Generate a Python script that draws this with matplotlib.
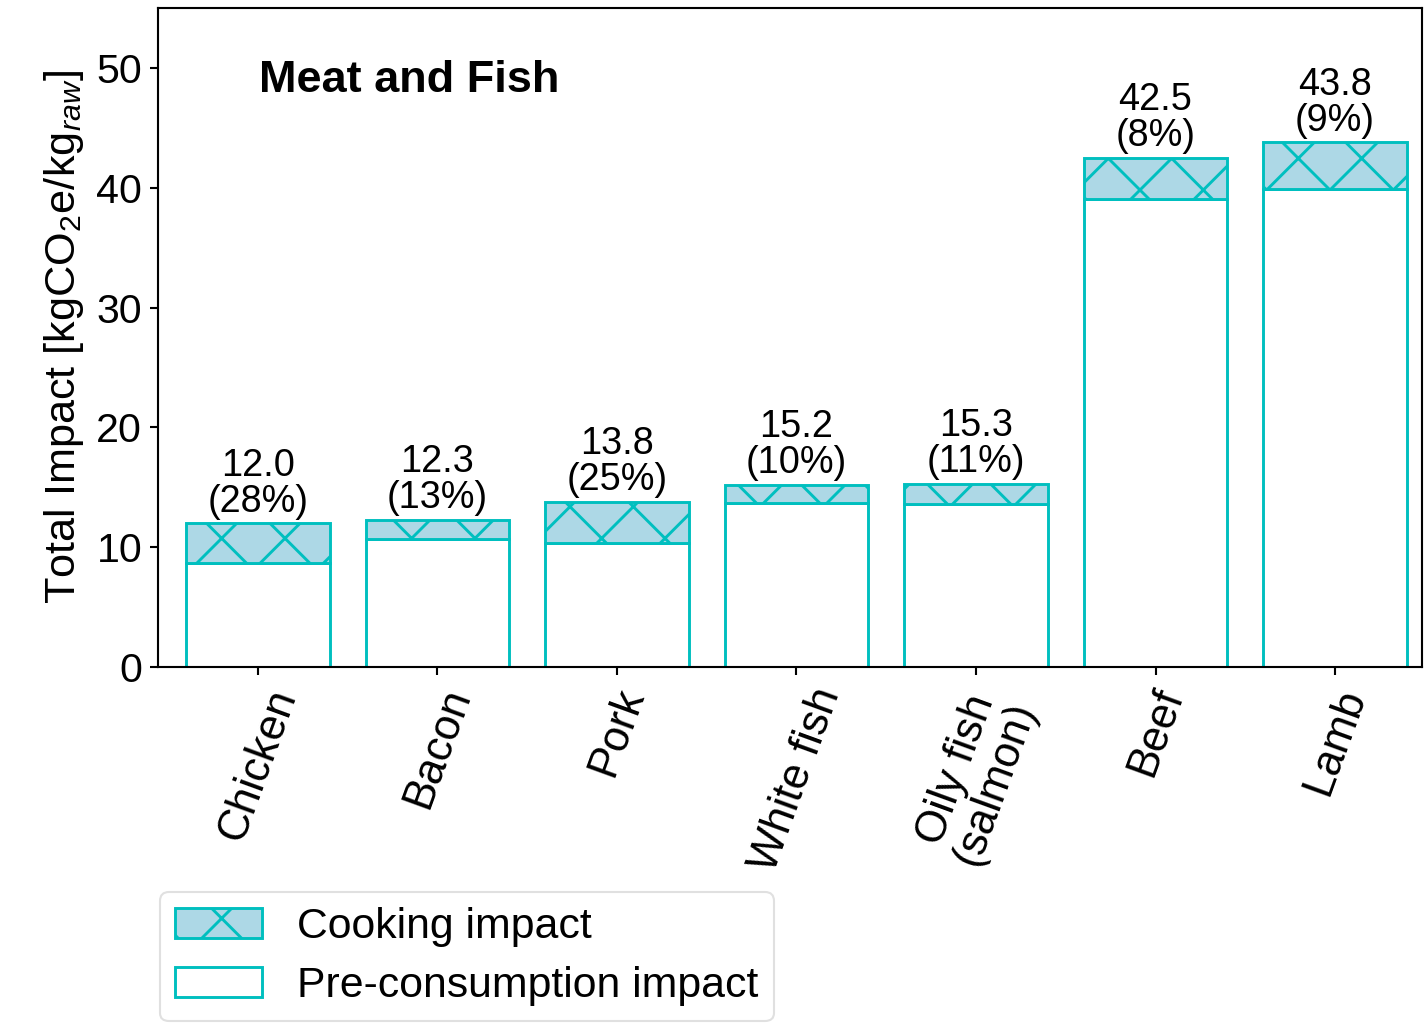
import numpy as np
import matplotlib
matplotlib.use("Agg")
import matplotlib.pyplot as plt

# data
foods = ["Chicken", "Bacon", "Pork", "White fish", "Oily fish\n(salmon)", "Beef", "Lamb"]
total = [12.0, 12.3, 13.8, 15.2, 15.3, 42.5, 43.8]
cook_pct = [28, 13, 25, 10, 11, 8, 9]
pre = [8.64, 10.7, 10.35, 13.68, 13.62, 39.1, 39.86]
cooking = [t - p for t, p in zip(total, pre)]

plt.rcParams['font.family'] = ['Liberation Sans', 'DejaVu Sans']
plt.rcParams['mathtext.fontset'] = 'custom'
plt.rcParams['mathtext.rm'] = 'Liberation Sans'
plt.rcParams['mathtext.it'] = 'Liberation Sans:italic'
plt.rcParams['hatch.linewidth'] = 0.55
plt.rcParams['hatch.color'] = '#00bfbf'

DPI = 380
fig = plt.figure(figsize=(1425 / DPI, 1024 / DPI), dpi=DPI)
ax = fig.add_axes([158 / 1425, 1 - 667 / 1024, (1422 - 158) / 1425, (667 - 8) / 1024])

edge = '#00bfbf'
x = np.arange(len(foods))
ax.bar(x, pre, width=0.8, color='white', edgecolor=edge, linewidth=0.55,
       label='Pre-consumption impact')
ax.bar(x, cooking, bottom=pre, width=0.8, color='lightblue', edgecolor=edge,
       linewidth=0.55, hatch='xx', label='Cooking impact')

for i in range(len(foods)):
    ax.text(x[i], total[i] + 0.3, f"{total[i]:.1f}\n({cook_pct[i]}%)",
            ha='center', va='bottom', fontsize=7.2, linespacing=1.0)

ax.text(0.08, 0.89, "Meat and Fish", transform=ax.transAxes, fontsize=8.55,
        fontweight='bold', va='center', ha='left')

ax.set_xlim(-0.556, 6.484)
ax.set_ylim(0, 55)
ax.set_yticks([0, 10, 20, 30, 40, 50])
ax.set_xticks(x)
ax.set_xticklabels(foods, rotation=70, fontsize=8.3, linespacing=1.0)
ax.tick_params(axis='y', labelsize=7.8, length=1.5, width=0.4, pad=1.5)
ax.tick_params(axis='x', length=1.5, width=0.4, pad=1.5)
for s in ax.spines.values():
    s.set_linewidth(0.4)
ax.set_ylabel("Total Impact [kgCO$_2$e/kg$_{raw}$]", fontsize=8.2, labelpad=2)

handles, labels = ax.get_legend_handles_labels()
leg = fig.legend(handles[::-1], labels[::-1], loc='upper left',
                 bbox_to_anchor=(160 / 1425, 1 - 892 / 1024), fontsize=8.1,
                 frameon=True, handlelength=2.04, handleheight=0.7,
                 borderpad=0.35, labelspacing=0.45, handletextpad=0.82,
                 borderaxespad=0)
leg.get_frame().set_linewidth(0.4)
leg.get_frame().set_edgecolor('#d9d9d9')

fig.savefig("out.png", dpi=DPI)
